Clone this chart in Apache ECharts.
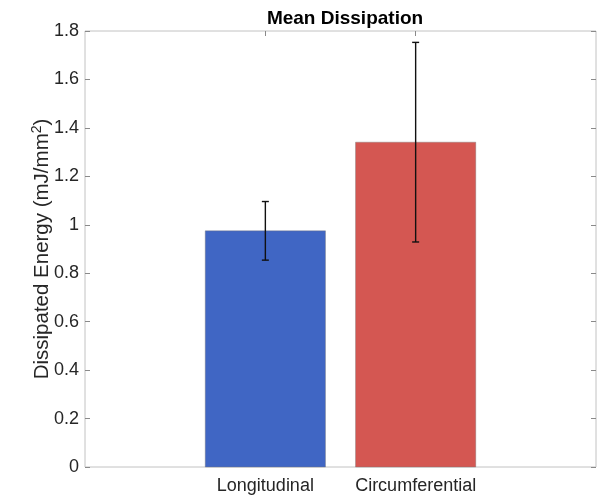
<!DOCTYPE html>
<html>
<head>
<meta charset="utf-8">
<script src="https://cdn.jsdelivr.net/npm/echarts@6/dist/echarts.min.js"></script>
<style>html,body{margin:0;padding:0;background:#fff;}#c{width:609px;height:498px;}</style>
</head>
<body>
<div id="c"></div>
<script>
var categories = ['Longitudinal', 'Circumferential'];
var positions = [1, 2];
var means = [0.975, 1.341];
var errors = [0.121, 0.412];
var barColors = ['#4066C4', '#D45752'];
var yTicks = [0, 0.2, 0.4, 0.6, 0.8, 1, 1.2, 1.4, 1.6, 1.8];

var data = positions.map(function (p, i) { return [p, means[i], errors[i], i]; });
var font = '"Liberation Sans", Arial, Helvetica, sans-serif';
var tickStyle = { color: '#8a8a8a' };

var chart = echarts.init(document.getElementById('c'));
chart.setOption({
  animation: false,
  title: {
    text: 'Mean Dissipation',
    left: 340, top: 4, textAlign: 'center',
    textStyle: { fontFamily: font, fontWeight: 'bold', fontSize: 19, color: '#000' }
  },
  grid: { left: 85, right: 13, top: 31, bottom: 31, show: true, borderColor: '#c2c2c2', borderWidth: 1, backgroundColor: '#fff' },
  xAxis: [{
    type: 'value', min: -0.2, max: 3.2, position: 'bottom',
    splitLine: { show: false },
    axisLine: { show: false, onZero: false },
    axisTick: { show: true, inside: true, length: 5, customValues: positions, lineStyle: tickStyle },
    axisLabel: { show: true, customValues: positions, margin: 10, fontFamily: font, fontSize: 18, color: '#262626',
      formatter: function (v) { var i = positions.indexOf(v); return i >= 0 ? categories[i] : ''; } }
  }, {
    type: 'value', min: -0.2, max: 3.2, position: 'top',
    splitLine: { show: false }, axisLine: { show: false, onZero: false },
    axisTick: { show: true, inside: true, length: 5, customValues: positions, lineStyle: tickStyle },
    axisLabel: { show: false }
  }],
  yAxis: [{
    type: 'value', min: 0, max: 1.8, interval: 0.2, position: 'left',
    name: '{a|Dissipated Energy (mJ/mm}{s|2}{a|)}',
    nameLocation: 'middle', nameGap: 31, nameRotate: 90, nameMoveOverlap: false,
    nameTextStyle: { rich: { a: { fontFamily: font, fontSize: 20.5, color: '#262626', lineHeight: 24 }, s: { fontFamily: font, fontSize: 14, color: '#262626', verticalAlign: 'top', lineHeight: 24, padding: [0, 0, 10, 0] } } },
    splitLine: { show: false }, axisLine: { show: false, onZero: false },
    axisTick: { show: true, inside: true, length: 5, lineStyle: tickStyle },
    axisLabel: { margin: 6, fontFamily: font, fontSize: 18, color: '#262626',
      formatter: function (v) { return String(Math.round(v * 10) / 10); } }
  }, {
    type: 'value', min: 0, max: 1.8, interval: 0.2, position: 'right',
    splitLine: { show: false }, axisLine: { show: false, onZero: false },
    axisTick: { show: true, inside: true, length: 5, lineStyle: tickStyle },
    axisLabel: { show: false }
  }],
  series: [{
    type: 'custom',
    xAxisIndex: 0, yAxisIndex: 0,
    data: data,
    renderItem: function (params, api) {
      var x = api.value(0), m = api.value(1), e = api.value(2), idx = api.value(3);
      var top = api.coord([x, m]);
      var base = api.coord([x, 0]);
      var w = api.size([0.8, 0])[0];
      var hi = api.coord([x, m + e]);
      var lo = api.coord([x, m - e]);
      var cap = 3.5;
      var ls = { stroke: '#111', lineWidth: 1.4 };
      return {
        type: 'group',
        children: [
          { type: 'rect', shape: { x: top[0] - w / 2, y: top[1], width: w, height: base[1] - top[1] },
            style: { fill: barColors[idx], stroke: 'rgba(120,120,120,0.5)', lineWidth: 0.8 } },
          { type: 'line', shape: { x1: hi[0], y1: hi[1], x2: lo[0], y2: lo[1] }, style: ls },
          { type: 'line', shape: { x1: hi[0] - cap, y1: hi[1], x2: hi[0] + cap, y2: hi[1] }, style: ls },
          { type: 'line', shape: { x1: lo[0] - cap, y1: lo[1], x2: lo[0] + cap, y2: lo[1] }, style: ls }
        ]
      };
    }
  }]
});
</script>
</body>
</html>
